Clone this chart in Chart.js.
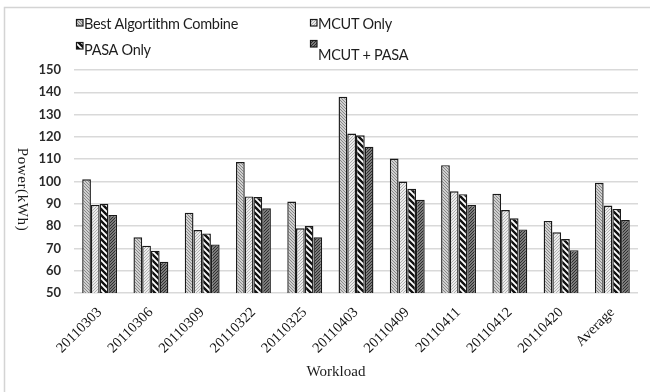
<!DOCTYPE html>
<html>
<head>
<meta charset="utf-8">
<script src="https://cdn.jsdelivr.net/npm/chart.js@4"></script>
<style>
  html, body { margin: 0; padding: 0; background: #fff; }
  #wrap { width: 650px; height: 392px; }
</style>
</head>
<body>
<div id="wrap"><canvas id="powerChart" width="650" height="392"></canvas></div>
<script>
'use strict';

// ── Data ─────────────────────────────────────────────────────────────────────
const workloads = ['20110303', '20110306', '20110309', '20110322', '20110325',
                   '20110403', '20110409', '20110411', '20110412', '20110420', 'Average'];

const bestCombine = [101, 75, 86, 108.7, 91, 138, 110.3, 107.3, 94.5, 82.3, 99.4];
const mcutOnly    = [89.5, 71.2, 78.2, 93.3, 79, 121.5, 100, 95.6, 87.2, 77.2, 89.2];
const pasaOnly    = [90, 69, 76.7, 93, 80, 120.7, 96.7, 94.3, 83.5, 74.2, 87.7];
const mcutPasa    = [85, 64, 71.8, 88, 75, 115.6, 91.8, 89.5, 78.5, 69.2, 82.7];

const seriesNames = ['Best Algortithm Combine', 'MCUT Only', 'PASA Only', 'MCUT + PASA'];

const Y_MIN = 50;
const Y_MAX = 150;
const Y_STEP = 10;

// ── Hatch fills ──────────────────────────────────────────────────────────────
// dir '/' runs bottom-left to top-right, '\' runs top-left to bottom-right
function hatch(bg, line, width, size, dir) {
  const c = document.createElement('canvas');
  c.width = size;
  c.height = size;
  const g = c.getContext('2d');
  g.fillStyle = bg;
  g.fillRect(0, 0, size, size);
  g.strokeStyle = line;
  g.lineWidth = width;
  g.beginPath();
  for (let k = -size; k <= size; k += size) {
    if (dir === '/') {
      g.moveTo(k - 1, size + 1);
      g.lineTo(k + size + 1, -1);
    } else {
      g.moveTo(k - 1, -1);
      g.lineTo(k + size + 1, size + 1);
    }
  }
  g.stroke();
  return g.createPattern(c, 'repeat');
}

const fills = [
  hatch('#d0d0d0', '#888888', 1, 3, '\\'),
  hatch('#ececec', '#b0b0b0', 1, 3, '/'),
  hatch('#ffffff', '#111111', 2.4, 6, '\\'),
  hatch('#7a7a7a', '#2e2e2e', 1, 3, '/'),
];

// ── Plugins ──────────────────────────────────────────────────────────────────
const framePlugin = {
  id: 'frame',
  beforeDraw(chart) {
    const c = chart.ctx;
    c.save();
    c.fillStyle = '#fff';
    c.fillRect(0, 0, chart.width, chart.height);
    c.strokeStyle = '#d4d4d4';
    c.lineWidth = 1.5;
    c.strokeRect(4.5, 7.5, chart.width + 10, chart.height + 10);
    c.restore();
  },
};

// 2x2 legend block above the plot
const legendSpots = [
  { x: 76, box: 19, text: 24 },
  { x: 310, box: 19, text: 24 },
  { x: 76, box: 42, text: 50 },
  { x: 310, box: 40, text: 55 },
];

const legendPlugin = {
  id: 'gridLegend',
  afterDraw(chart) {
    const c = chart.ctx;
    c.save();
    c.font = '14.5px Lato, "Noto Sans", sans-serif';
    c.letterSpacing = '-0.3px';
    c.textBaseline = 'middle';
    chart.data.datasets.forEach((ds, i) => {
      const s = legendSpots[i];
      c.fillStyle = ds.backgroundColor;
      c.fillRect(s.x, s.box, 7, 7);
      c.strokeStyle = '#1a1a1a';
      c.lineWidth = 1.2;
      c.strokeRect(s.x + 0.5, s.box + 0.5, 6.5, 6.5);
      c.fillStyle = '#1e1e1e';
      c.fillText(ds.label, s.x + 8, s.text);
    });
    c.restore();
  },
};

const axisTitlePlugin = {
  id: 'axisTitles',
  afterDraw(chart) {
    const c = chart.ctx;
    const area = chart.chartArea;
    c.save();
    c.fillStyle = '#1a1a1a';
    c.textAlign = 'center';
    c.textBaseline = 'middle';
    c.font = '15px "Liberation Serif", "DejaVu Serif", serif';
    c.fillText('Workload', (area.left + area.right) / 2 - 20, 372);
    // y title reads top to bottom
    c.translate(22, (area.top + area.bottom) / 2 + 8);
    c.rotate(Math.PI / 2);
    c.font = '15px "Liberation Serif", "DejaVu Serif", serif';
    c.letterSpacing = '0.6px';
    c.fillText('Power(kWh)', 0, 0);
    c.restore();
  },
};

// ── Chart ────────────────────────────────────────────────────────────────────
const seriesValues = [bestCombine, mcutOnly, pasaOnly, mcutPasa];

new Chart(document.getElementById('powerChart'), {
  type: 'bar',
  data: {
    labels: workloads,
    datasets: seriesValues.map((vals, i) => ({
      label: seriesNames[i],
      data: vals,
      backgroundColor: fills[i],
      borderColor: '#1a1a1a',
      borderWidth: 1.4,
      borderSkipped: false,
      categoryPercentage: 0.68,
      barPercentage: 1.0,
    })),
  },
  options: {
    responsive: false,
    animation: false,
    devicePixelRatio: 1,
    layout: { padding: { top: 70, right: 12, left: 0, bottom: 0 } },
    plugins: {
      legend: { display: false },
      tooltip: { enabled: false },
    },
    scales: {
      x: {
        grid: { display: false },
        border: { display: false },
        ticks: {
          minRotation: 45,
          maxRotation: 45,
          padding: 3,
          color: '#111',
          font: { family: '"Liberation Serif", "DejaVu Serif", serif', size: 14.5 },
        },
        afterFit(scale) { scale.height = 99; },
      },
      y: {
        min: Y_MIN,
        max: Y_MAX,
        ticks: {
          stepSize: Y_STEP,
          padding: 13,
          color: '#2a2a2a',
          font: { family: 'Lato, "Noto Sans", sans-serif', size: 13, weight: 'bold' },
        },
        grid: { color: '#d9d9d9', lineWidth: 1.5, drawTicks: false },
        border: { display: false },
        afterFit(scale) { scale.width = 74; },
      },
    },
  },
  plugins: [framePlugin, legendPlugin, axisTitlePlugin],
});
</script>
</body>
</html>
